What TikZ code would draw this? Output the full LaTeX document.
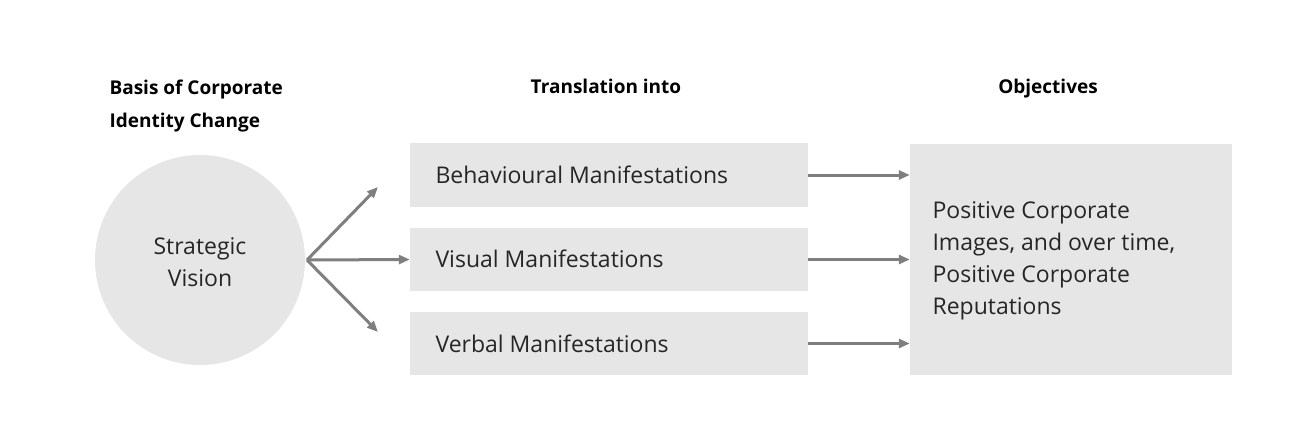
\documentclass[tikz,border=0pt]{standalone}
\usepackage{fontspec}
\setmainfont{Open Sans}
\usetikzlibrary{arrows.meta}
\definecolor{boxc}{HTML}{E6E6E6}
\definecolor{arr}{HTML}{7F7F7F}
\begin{document}
\begin{tikzpicture}[x=1pt,y=-1pt,
  box/.style={fill=boxc,draw=none,inner sep=0pt},
  txt/.style={font=\fontsize{23}{32}\selectfont,text=black!85,align=left,anchor=west},
  head/.style={font=\bfseries\fontsize{19}{33}\selectfont,align=left},
  ar/.style={draw=arr,line width=3pt,-{Triangle[length=11pt,width=9pt]}}]
\useasboundingbox (0,0) rectangle (1290,431);
\fill[boxc] (200,260) circle (105);
\node[txt,anchor=center,align=center] (sv) at (200,262) {Strategic\\Vision};
\coordinate (o) at (307,260);
\node[box,minimum width=398pt,minimum height=64pt] (b1) at (609,175) {};
\node[box,minimum width=398pt,minimum height=63pt] (b2) at (609,259.5) {};
\node[box,minimum width=398pt,minimum height=63pt] (b3) at (609,343.5) {};
\node[box,minimum width=322pt,minimum height=231pt] (ob) at (1071,259.5) {};
\node[txt] at (432,175) {Behavioural Manifestations};
\node[txt] at (432,259) {Visual Manifestations};
\node[txt] at (432,344) {Verbal Manifestations};
\node[txt] at (929,261) {Positive Corporate\\Images, and over time,\\Positive Corporate\\Reputations};
\node[head,anchor=north west] (h1) at (106,76) {Basis of Corporate\\Identity Change};
\node[head,anchor=north] (h2) at (606,76) {Translation into};
\node[head,anchor=north] (h3) at (1048,76) {Objectives};
\coordinate (t1) at (378,187);
\coordinate (t3) at (378,332);
\draw[ar] (o) -- (t1);
\draw[ar] (o) -- (b2.west);
\draw[ar] (o) -- (t3);
\draw[ar] (b1.east) -- (ob.west |- b1.east);
\draw[ar] (b2.east) -- (ob.west |- b2.east);
\draw[ar] (b3.east) -- (ob.west |- b3.east);
\end{tikzpicture}
\end{document}
